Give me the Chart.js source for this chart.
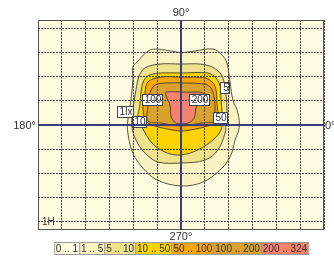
<!DOCTYPE html>
<html>
<head>
<meta charset="utf-8">
<script src="https://cdn.jsdelivr.net/npm/chart.js@4"></script>
<style>
  html, body { margin: 0; padding: 0; background: #fff; }
  #wrap { position: relative; width: 334px; height: 257px; }
  #legend { position: absolute; top: 242px; left: 181.5px; transform: translateX(-50%); display: flex;
    border: 1px solid #999; font: 10px "Liberation Sans", Arial, sans-serif; color: #333; }
  #legend span { padding: 0 1px; line-height: 11px; border-left: 1px solid #999; white-space: pre; }
  #legend span:first-child { border-left: none; }
</style>
</head>
<body>
<div id="wrap">
  <canvas id="myChart" width="334" height="257"></canvas>
  <div id="legend"></div>
</div>
<script>
// illuminance classes (lx)
const legendLabels = ["0 .. 1", "1 .. 5", "5 .. 10", "10 .. 50", "50 .. 100", "100 .. 200", "200 .. 324"]
const fillColors = ["#fffce1", "#fbf3c4", "#eee28c", "#fcd302", "#f9a60c", "#d8a22c", "#f4826f"]

// isolux lines, [x, y] in grid units
const c1 = [[0,2.98],[0.59,3.06],[1.34,3.14],[1.72,2.89],[1.93,2.56],[2.06,1.74],[2.18,1.03],[2.39,0.5],[2.44,-0.12],[2.27,-0.62],[2.06,-1.32],[1.64,-1.86],[0.92,-2.36],[0,-2.52],[-1.01,-2.27],[-1.6,-1.78],[-2.02,-1.16],[-2.23,-0.33],[-2.23,0.21],[-2.1,1.03],[-2.02,1.86],[-2.02,2.4],[-1.85,2.6],[-1.3,3.1],[-0.67,3.1]]
const c5 = [[0,2.52],[0.8,2.52],[1.3,2.4],[1.64,2.15],[1.81,1.78],[1.89,1.24],[1.93,0.62],[1.89,0],[1.85,-0.33],[1.55,-1.03],[1.01,-1.45],[0,-1.57],[-0.97,-1.53],[-1.51,-1.16],[-1.89,-0.62],[-2.06,-0.08],[-2.02,0.62],[-1.89,1.45],[-1.76,2.02],[-1.51,2.36],[-0.88,2.52]]
const c10 = [[0,2.15],[1.13,2.15],[1.47,1.94],[1.64,1.61],[1.68,1.03],[1.72,0.5],[1.72,-0.08],[1.43,-0.54],[0.71,-1.03],[-0.04,-1.24],[-0.67,-1.12],[-1.22,-0.74],[-1.64,-0.08],[-1.81,0.29],[-1.72,0.83],[-1.68,1.36],[-1.55,1.86],[-1.3,2.07],[-0.8,2.15]]
const c50 = [[0,1.98],[1.01,1.94],[1.34,1.74],[1.47,1.45],[1.51,0.91],[1.55,0.5],[1.6,0.12],[1.13,-0.04],[0.59,-0.17],[0,-0.25],[-0.55,-0.17],[-1.09,-0.04],[-1.47,0.17],[-1.6,0.74],[-1.51,1.32],[-1.39,1.78],[-0.84,1.98]]
const c100 = [[0,1.74],[1.01,1.69],[1.26,1.53],[1.39,1.16],[1.43,0.62],[1.43,0.17],[0.84,0.08],[0,-0.04],[-0.84,0.08],[-1.39,0.17],[-1.39,0.74],[-1.3,1.32],[-1.09,1.65],[-0.55,1.74]]
const c200 = [[0.13,1.36],[0.92,1.32],[0.76,1.03],[0.63,0.7],[0.55,0.29],[0.29,0.08],[-0.21,0.08],[-0.42,0.37],[-0.46,0.83],[-0.63,1.2],[-0.63,1.36]]

const labelTexts = ["5", "100", "200", "1lx", "10", "50"]
const labelX = [1.85, -1.2, 0.76, -2.33, -1.76, 1.62]
const labelY = [1.55, 1.05, 1.05, 0.52, 0.14, 0.31]

const xTicks = [-6, -5, -4, -3, -2, -1, 0, 1, 2, 3, 4, 5, 6]
const yTicks = [-4, -3, -2, -1, 0, 1, 2, 3, 4]

const contours = [c1, c5, c10, c50, c100, c200]
const font = '"Liberation Sans", Arial, sans-serif'

const plotDecor = {
  id: 'plotDecor',
  beforeDraw(chart) {
    const {ctx, chartArea: a} = chart
    ctx.save()
    ctx.fillStyle = fillColors[0]
    ctx.fillRect(a.left, a.top, a.right - a.left, a.bottom - a.top)
    ctx.restore()
  },
  afterDatasetsDraw(chart) {
    const {ctx, chartArea: a, scales: {x, y}} = chart
    ctx.save()
    ctx.font = '10px ' + font
    ctx.textBaseline = 'middle'
    ctx.textAlign = 'center'
    labelTexts.forEach((t, i) => {
      const px = Math.round(x.getPixelForValue(labelX[i]))
      const py = Math.round(y.getPixelForValue(labelY[i]))
      const w = Math.round(ctx.measureText(t).width) + 3, h = 11
      const l = px - Math.round(w / 2), tp = py - 6
      ctx.fillStyle = '#fff'
      ctx.fillRect(l, tp, w, h)
      ctx.strokeStyle = '#444'
      ctx.lineWidth = 1
      ctx.strokeRect(l + 0.5, tp + 0.5, w, h)
      ctx.fillStyle = '#333'
      ctx.fillText(t, px + 1, py + 0.5)
    })
    ctx.textAlign = 'left'
    ctx.fillText('1H', a.left + 4, a.bottom - 8)
    ctx.restore()
  },
  afterDraw(chart) {
    const {ctx, chartArea: a, scales: {x, y}} = chart
    const cx = x.getPixelForValue(0), cy = y.getPixelForValue(0)
    ctx.save()
    ctx.strokeStyle = '#555'
    ctx.lineWidth = 1
    ctx.strokeRect(a.left + 0.5, a.top + 0.5, a.right - a.left - 1, a.bottom - a.top - 1)
    ctx.strokeStyle = '#3d3d7a'
    ctx.lineWidth = 2
    ctx.beginPath()
    ctx.moveTo(cx, a.top); ctx.lineTo(cx, a.bottom)
    ctx.moveTo(a.left, cy); ctx.lineTo(a.right, cy)
    ctx.stroke()
    ctx.fillStyle = '#333'
    ctx.font = '11px ' + font
    ctx.textBaseline = 'middle'
    ctx.textAlign = 'center'
    ctx.fillText('90°', cx, a.top - 7)
    ctx.fillText('270°', cx, a.bottom + 7)
    ctx.textAlign = 'right'
    ctx.fillText('180°', a.left - 2, cy + 1)
    ctx.textAlign = 'left'
    ctx.fillText('0°', a.right + 1, cy + 1)
    ctx.restore()
  }
}

const gridOpts = { color: '#4a4a4a', lineWidth: 1, drawTicks: false, tickLength: 0, z: 1, borderDash: [2, 1] }

const ctx = document.getElementById('myChart').getContext('2d')
const chart = new Chart(ctx, {
  type: 'scatter',
  data: {
    datasets: contours.map((pts, i) => ({
      data: pts.concat([pts[0]]).map(p => ({x: p[0], y: p[1]})),
      showLine: true,
      fill: 'shape',
      backgroundColor: fillColors[i + 1],
      borderColor: 'rgba(60,58,40,0.85)',
      borderWidth: 1,
      pointRadius: 0,
      tension: 0.35,
      order: contours.length - i
    }))
  },
  options: {
    responsive: false,
    animation: false,
    events: [],
    layout: { padding: { left: 38, right: 10, top: 20, bottom: 27 } },
    plugins: { legend: { display: false }, tooltip: { enabled: false } },
    scales: {
      x: {
        type: 'linear', min: -6, max: 6,
        afterBuildTicks: s => { s.ticks = xTicks.map(v => ({value: v})) },
        ticks: { display: false },
        grid: gridOpts,
        border: { display: false, dash: [2, 1] }
      },
      y: {
        type: 'linear', min: -4.34, max: 4.34,
        afterBuildTicks: s => { s.ticks = yTicks.map(v => ({value: v})) },
        ticks: { display: false },
        grid: gridOpts,
        border: { display: false, dash: [2, 1] }
      }
    }
  },
  plugins: [plotDecor]
})

const legend = document.getElementById('legend')
legendLabels.forEach((t, i) => {
  const s = document.createElement('span')
  s.textContent = t
  s.style.background = fillColors[i]
  legend.appendChild(s)
})
</script>
</body>
</html>
